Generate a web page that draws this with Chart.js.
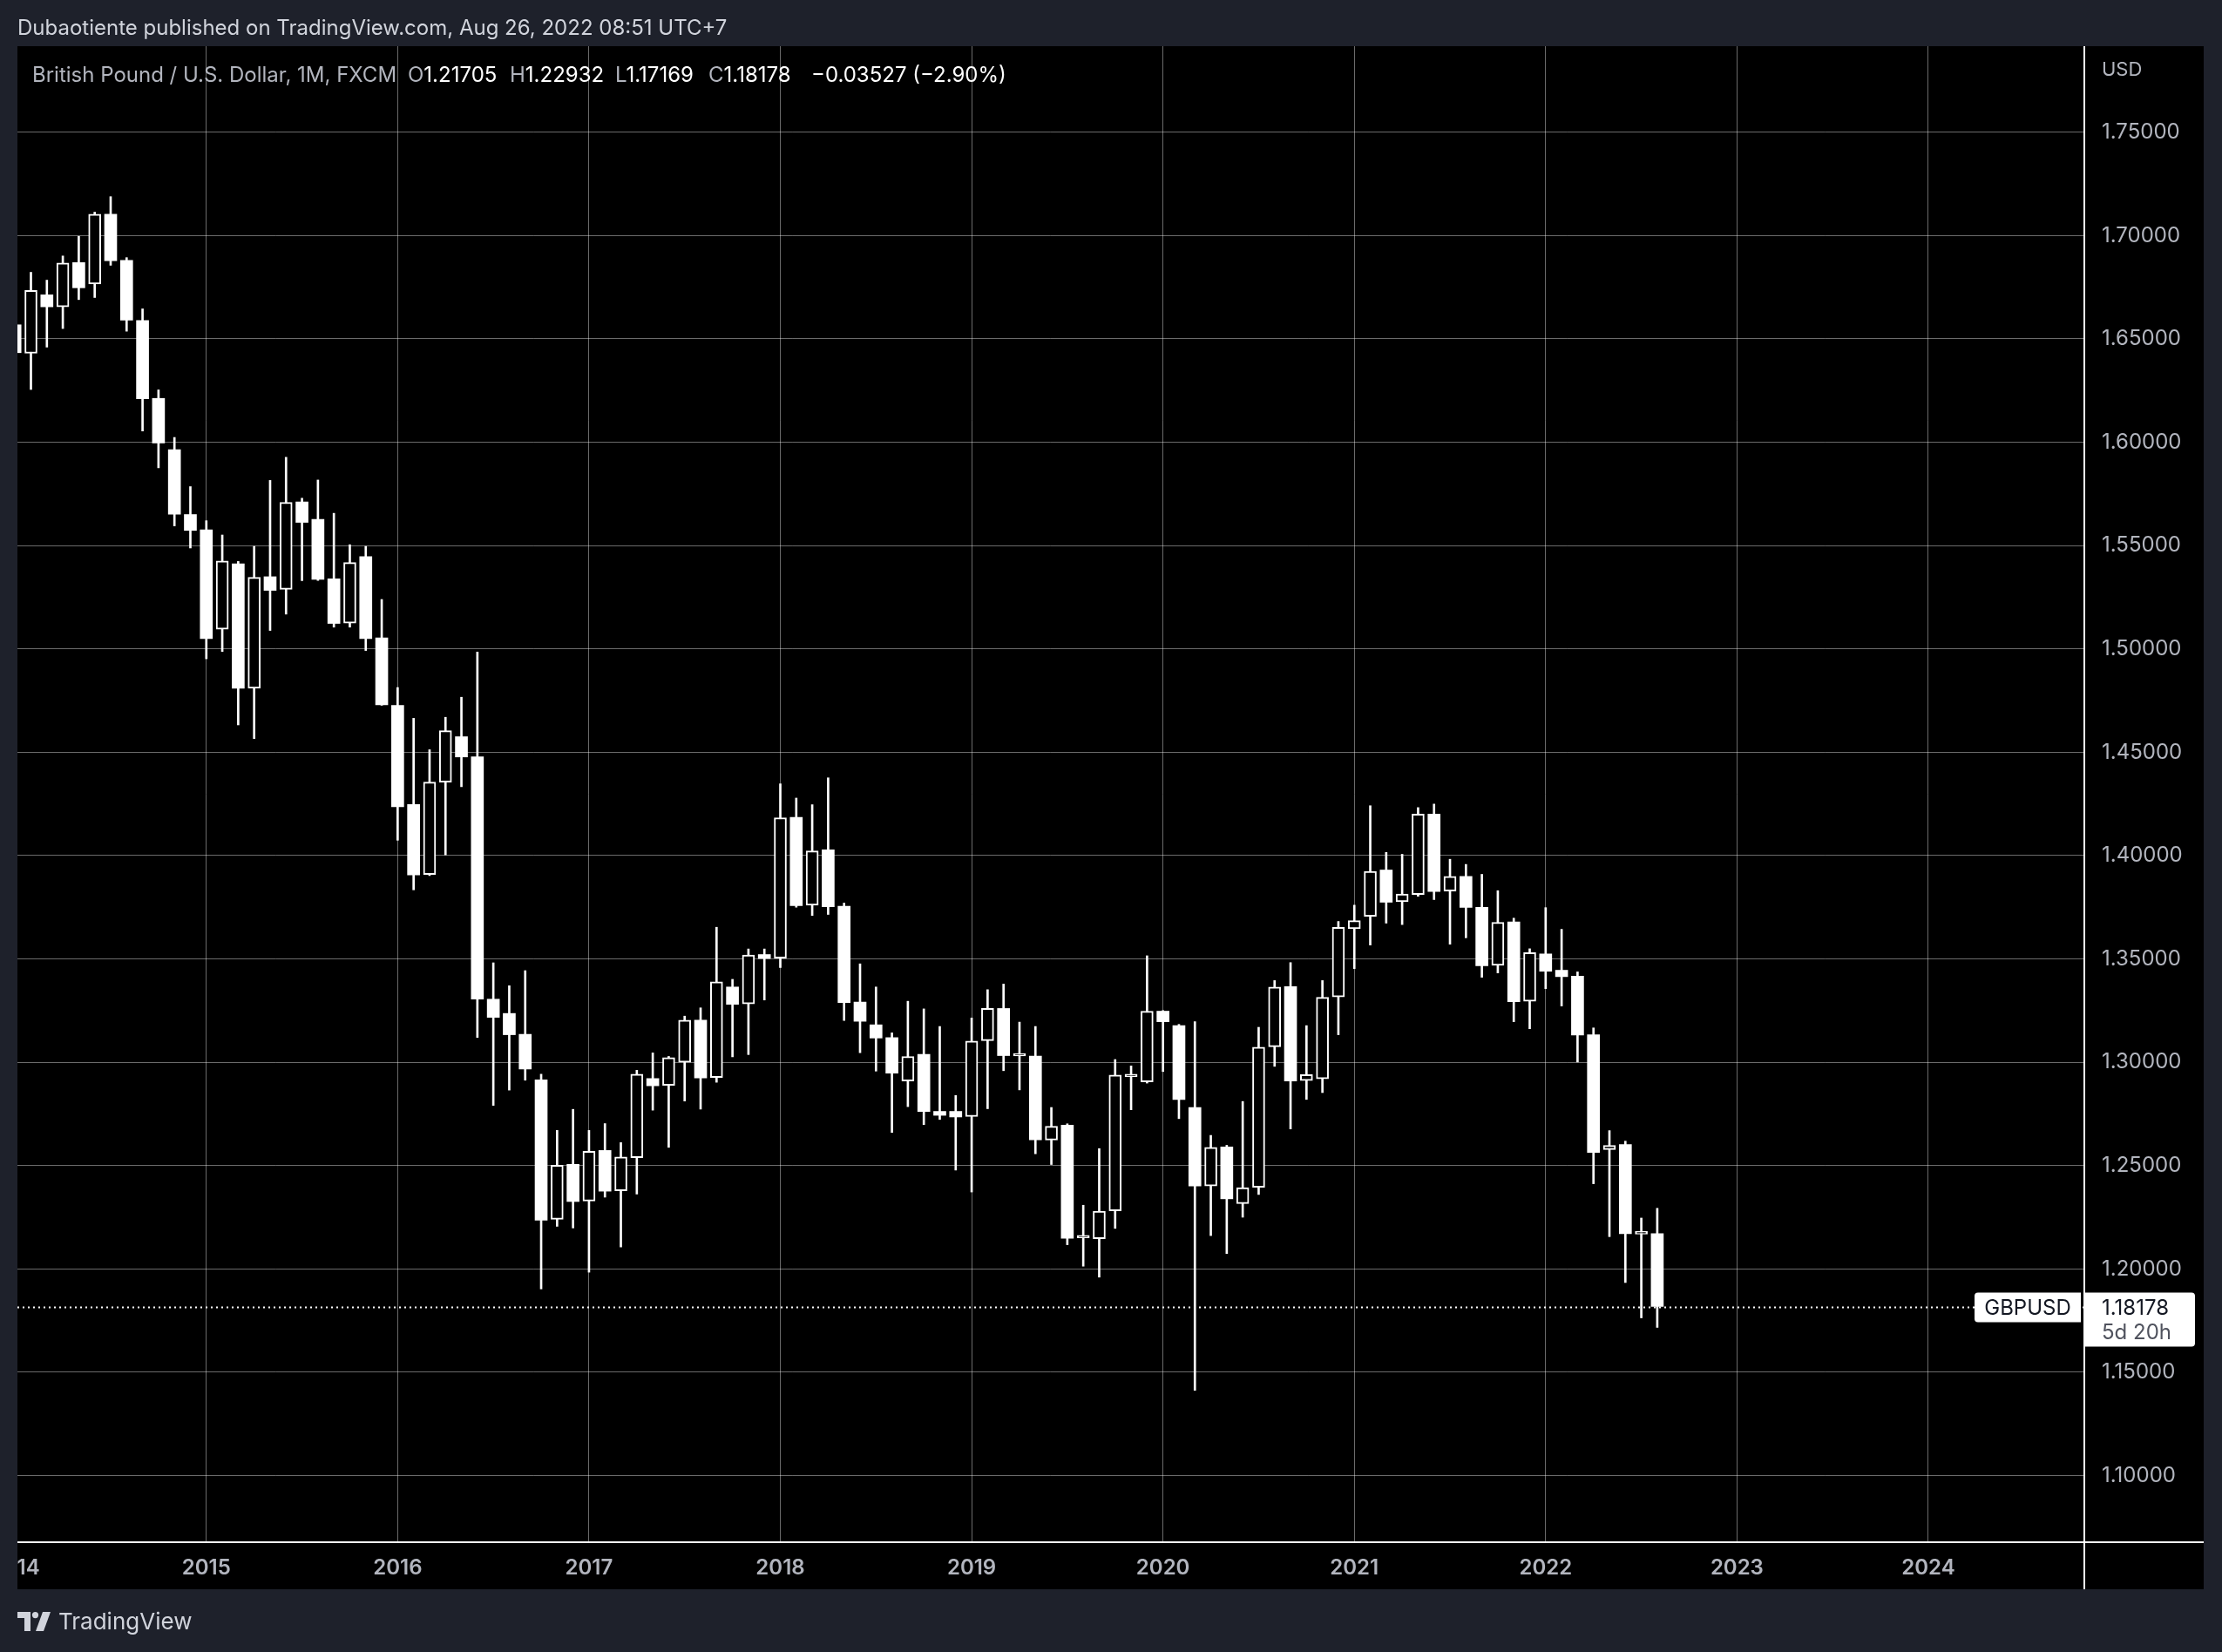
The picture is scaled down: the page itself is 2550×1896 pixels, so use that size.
<!DOCTYPE html>
<html>
<head>
<meta charset="utf-8">
<script src="https://cdn.jsdelivr.net/npm/chart.js@4/dist/chart.umd.min.js"></script>
<style>
  html, body { margin: 0; padding: 0; background: #1e212b; }
  body { width: 2550px; height: 1896px; position: relative; overflow: hidden; font-family: Inter, "Noto Sans", sans-serif; }
  #c { position: absolute; left: 0; top: 0; }
  .t { position: absolute; white-space: nowrap; line-height: 1; transform: translateY(-50%); }
  #header { left: 20px; top: 32px; font-size: 24px; color: #d1d4dc; }
  .lg { top: 86px; font-size: 24px; color: #b2b5be; }
  .lg b { font-weight: 400; color: #ffffff; }
  #footer { left: 20px; top: 1861px; font-size: 26px; color: #d1d4dc; display: flex; align-items: center; }
  #footer svg { margin-right: 9px; }
</style>
</head>
<body>
<canvas id="c" width="2550" height="1896"></canvas>
<div id="header" class="t">Dubaotiente published on TradingView.com, Aug 26, 2022 08:51 UTC+7</div>
<div class="t lg" style="left:37px">British Pound / U.S. Dollar, 1M, FXCM</div>
<div class="t lg" id="lgO" style="left:468px"></div>
<div class="t lg" id="lgH" style="left:585px"></div>
<div class="t lg" id="lgL" style="left:706px"></div>
<div class="t lg" id="lgC" style="left:813px"></div>
<div class="t lg" id="lgChg" style="left:931px"></div>
<div id="footer" class="t">
  <svg width="38" height="22" viewBox="0 0 38 22">
    <path d="M0 0 H15 V22 H8 V7 H0 Z" fill="#d1d4dc"/>
    <circle cx="20.5" cy="3.6" r="3.6" fill="#d1d4dc"/>
    <path d="M29 0 H38 L30 22 H21 Z" fill="#d1d4dc"/>
  </svg>
  <span>TradingView</span>
</div>
<script>
// GBPUSD monthly candles, Jan 2014 .. Aug 2022 (index 0 = Jan 2014)
const opens = [
  1.6568, 1.6430, 1.6713, 1.6655, 1.6869, 1.6765, 1.7103, 1.6880, 1.6589, 1.6212, 1.5964, 1.5650,
  1.5576, 1.5095, 1.5412, 1.4809, 1.5349, 1.5288, 1.5711, 1.5627, 1.5339, 1.5124, 1.5446, 1.5053,
  1.4727, 1.4247, 1.3908, 1.4355, 1.4575, 1.4478, 1.3305, 1.3236, 1.3135, 1.2915, 1.2240, 1.2506,
  1.2328, 1.2573, 1.2378, 1.2538, 1.2921, 1.2888, 1.3000, 1.3204, 1.2926, 1.3364, 1.3282, 1.3521,
  1.3504, 1.4185, 1.3760, 1.4028, 1.3755, 1.3291, 1.3181, 1.3119, 1.2909, 1.3038, 1.2762, 1.2762,
  1.2737, 1.3104, 1.3260, 1.3030, 1.3030, 1.2623, 1.2696, 1.2150, 1.2146, 1.2281, 1.2930, 1.2905,
  1.3247, 1.3177, 1.2781, 1.2401, 1.2590, 1.2316, 1.2395, 1.3075, 1.3366, 1.2911, 1.2920, 1.3316,
  1.3646, 1.3706, 1.3930, 1.3776, 1.3811, 1.4201, 1.3828, 1.3899, 1.3749, 1.3469, 1.3679, 1.3295,
  1.3524, 1.3445, 1.3416, 1.3133, 1.2577, 1.2602, 1.2168, 1.21705
];
const highs = [
  1.6680, 1.6822, 1.6784, 1.6901, 1.6996, 1.7113, 1.7188, 1.6893, 1.6645, 1.6253, 1.6023, 1.5785,
  1.5620, 1.5551, 1.5423, 1.5496, 1.5815, 1.5927, 1.5729, 1.5817, 1.5656, 1.5504, 1.5496, 1.5239,
  1.4813, 1.4664, 1.4512, 1.4669, 1.4766, 1.4985, 1.3481, 1.3370, 1.3443, 1.2942, 1.2670, 1.2772,
  1.2670, 1.2703, 1.2611, 1.2961, 1.3045, 1.3028, 1.3223, 1.3263, 1.3653, 1.3401, 1.3548, 1.3548,
  1.4347, 1.4278, 1.4246, 1.4376, 1.3770, 1.3476, 1.3364, 1.3142, 1.3295, 1.3258, 1.3173, 1.2839,
  1.3214, 1.3351, 1.3378, 1.3194, 1.3173, 1.2781, 1.2702, 1.2308, 1.2582, 1.3013, 1.2982, 1.3515,
  1.3250, 1.3183, 1.3196, 1.2646, 1.2598, 1.2810, 1.3169, 1.3395, 1.3482, 1.3177, 1.3395, 1.3681,
  1.3760, 1.4241, 1.4015, 1.4006, 1.4232, 1.4249, 1.3982, 1.3957, 1.3909, 1.3830, 1.3697, 1.3549,
  1.3748, 1.3643, 1.3437, 1.3166, 1.2669, 1.2618, 1.2246, 1.22932
];
const lows = [
  1.6250, 1.6255, 1.6460, 1.6550, 1.6690, 1.6700, 1.6856, 1.6537, 1.6054, 1.5876, 1.5595, 1.5488,
  1.4952, 1.4987, 1.4632, 1.4566, 1.5089, 1.5168, 1.5330, 1.5331, 1.5105, 1.5105, 1.4992, 1.4727,
  1.4074, 1.3834, 1.3903, 1.4003, 1.4333, 1.3120, 1.2791, 1.2865, 1.2913, 1.1903, 1.2206, 1.2198,
  1.1984, 1.2347, 1.2106, 1.2362, 1.2768, 1.2588, 1.2812, 1.2773, 1.2903, 1.3026, 1.3037, 1.3301,
  1.3458, 1.3750, 1.3710, 1.3715, 1.3202, 1.3046, 1.2957, 1.2660, 1.2785, 1.2698, 1.2723, 1.2478,
  1.2372, 1.2775, 1.2959, 1.2866, 1.2557, 1.2505, 1.2117, 1.2013, 1.1960, 1.2196, 1.2770, 1.2899,
  1.2955, 1.2727, 1.1412, 1.2161, 1.2074, 1.2250, 1.2360, 1.2980, 1.2677, 1.2820, 1.2853, 1.3133,
  1.3453, 1.3567, 1.3673, 1.3666, 1.3803, 1.3787, 1.3571, 1.3602, 1.3411, 1.3432, 1.3196, 1.3162,
  1.3356, 1.3272, 1.3001, 1.2412, 1.2156, 1.1934, 1.1763, 1.17169
];
const closes = [
  1.6433, 1.6734, 1.6655, 1.6867, 1.6747, 1.7103, 1.6878, 1.6591, 1.6210, 1.5996, 1.5651, 1.5573,
  1.5050, 1.5425, 1.4809, 1.5346, 1.5283, 1.5709, 1.5612, 1.5336, 1.5123, 1.5418, 1.5050, 1.4729,
  1.4236, 1.3906, 1.4355, 1.4604, 1.4477, 1.3305, 1.3217, 1.3133, 1.2967, 1.2236, 1.2502, 1.2326,
  1.2569, 1.2376, 1.2542, 1.2942, 1.2886, 1.3022, 1.3204, 1.2924, 1.3389, 1.3280, 1.3519, 1.3502,
  1.4183, 1.3758, 1.4022, 1.3752, 1.3289, 1.3198, 1.3117, 1.2947, 1.3028, 1.2762, 1.2743, 1.2735,
  1.3102, 1.3260, 1.3032, 1.3036, 1.2625, 1.2690, 1.2148, 1.2155, 1.2279, 1.2938, 1.2936, 1.3247,
  1.3196, 1.2820, 1.2401, 1.2588, 1.2339, 1.2393, 1.3073, 1.3364, 1.2909, 1.2940, 1.3314, 1.3652,
  1.3685, 1.3923, 1.3774, 1.3814, 1.4201, 1.3826, 1.3899, 1.3749, 1.3467, 1.3677, 1.3293, 1.3530,
  1.3440, 1.3414, 1.3131, 1.2563, 1.2598, 1.2170, 1.21705, 1.18178
];

const yearLabels = ['2014', '2015', '2016', '2017', '2018', '2019', '2020', '2021', '2022', '2023', '2024'];
const yearTickIndex = [0, 12, 24, 36, 48, 60, 72, 84, 96, 108, 120];
const priceTicks = [1.10, 1.15, 1.20, 1.25, 1.30, 1.35, 1.40, 1.45, 1.50, 1.55, 1.60, 1.65, 1.70, 1.75];
const symbol = 'GBPUSD';
const countdown = '5d 20h';

const last = closes.length - 1;
const chg = closes[last] - closes[last - 1];
const pct = chg / closes[last - 1] * 100;
document.getElementById('lgO').innerHTML = 'O<b>' + opens[last].toFixed(5) + '</b>';
document.getElementById('lgH').innerHTML = 'H<b>' + highs[last].toFixed(5) + '</b>';
document.getElementById('lgL').innerHTML = 'L<b>' + lows[last].toFixed(5) + '</b>';
document.getElementById('lgC').innerHTML = 'C<b>' + closes[last].toFixed(5) + '</b>';
document.getElementById('lgChg').innerHTML = '<b>' + (chg < 0 ? '\u2212' : '+') + Math.abs(chg).toFixed(5) +
  ' (' + (pct < 0 ? '\u2212' : '+') + Math.abs(pct).toFixed(2) + '%)</b>';

const isUp = i => closes[i] >= opens[i];
const bodies = opens.map((o, i) => ({x: i, y: [o, closes[i]]}));
const wicks = lows.map((l, i) => ({x: i, y: [l, highs[i]]}));

const NAVY = '#1e212b';
const GRID = 'rgba(255,255,255,0.42)';
const PANE = {left: 20, top: 53, right: 2529, bottom: 1824};

const framePlugin = {
  id: 'frame',
  beforeDraw(chart) {
    const ctx = chart.ctx;
    ctx.save();
    ctx.fillStyle = NAVY;
    ctx.fillRect(0, 0, chart.width, chart.height);
    ctx.fillStyle = '#000000';
    ctx.fillRect(PANE.left, PANE.top, PANE.right - PANE.left, PANE.bottom - PANE.top);
    ctx.restore();
  },
  beforeDatasetsDraw(chart) {
    const ctx = chart.ctx, a = chart.chartArea;
    const py = Math.round(chart.scales.y.getPixelForValue(closes[last])) + 0.5;
    ctx.save();
    ctx.strokeStyle = '#ffffff';
    ctx.lineWidth = 2;
    ctx.setLineDash([2, 4]);
    ctx.beginPath();
    ctx.moveTo(a.left, py);
    ctx.lineTo(a.right, py);
    ctx.stroke();
    ctx.restore();
  },
  afterDraw(chart) {
    const ctx = chart.ctx, a = chart.chartArea;
    ctx.save();
    // clip anything left of the pane
    ctx.fillStyle = NAVY;
    ctx.fillRect(0, PANE.top, PANE.left, PANE.bottom - PANE.top);
    // axis border lines
    ctx.fillStyle = '#ffffff';
    ctx.fillRect(a.right, PANE.top, 2, PANE.bottom - PANE.top);
    ctx.fillRect(PANE.left, a.bottom - 1, PANE.right - PANE.left, 2);

    const py = chart.scales.y.getPixelForValue(closes[last]);
    // symbol label and last price label
    ctx.fillStyle = '#ffffff';
    ctx.beginPath();
    ctx.roundRect(a.right - 125, py - 16, 122, 34, [4, 0, 0, 4]);
    ctx.fill();
    ctx.beginPath();
    ctx.roundRect(a.right + 2, py - 16, 126, 62, [0, 4, 4, 0]);
    ctx.fill();
    ctx.fillStyle = '#131722';
    ctx.font = '24px Inter, "Noto Sans", sans-serif';
    ctx.textBaseline = 'middle';
    ctx.textAlign = 'center';
    ctx.fillText(symbol, a.right - 64, py + 2);
    ctx.textAlign = 'left';
    ctx.fillText(closes[last].toFixed(5), a.right + 21, py + 2);
    ctx.fillStyle = '#50535e';
    ctx.fillText(countdown, a.right + 21, py + 30);
    // currency label
    ctx.fillStyle = '#b2b5be';
    ctx.font = '22px Inter, "Noto Sans", sans-serif';
    ctx.fillText('USD', a.right + 21, 80);
    ctx.restore();
  }
};

function draw() {
  new Chart(document.getElementById('c'), {
    type: 'bar',
    data: {
      datasets: [
        {
          data: bodies,
          barThickness: 14,
          grouped: false,
          borderSkipped: false,
          minBarLength: 3,
          backgroundColor: ctx => isUp(ctx.dataIndex) ? '#000000' : '#ffffff',
          borderColor: '#ffffff',
          borderWidth: ctx => isUp(ctx.dataIndex) ? 2 : 0
        },
        {
          data: wicks,
          barThickness: 2,
          grouped: false,
          borderSkipped: false,
          backgroundColor: '#ffffff',
          borderWidth: 0
        }
      ]
    },
    options: {
      responsive: false,
      devicePixelRatio: 1,
      animation: false,
      layout: {padding: {left: 20, top: 53, right: 21, bottom: 72}},
      plugins: {
        legend: {display: false},
        tooltip: {enabled: false}
      },
      scales: {
        x: {
          type: 'linear',
          offset: false,
          min: 0.153,
          max: 129.73,
          afterBuildTicks: s => { s.ticks = yearTickIndex.map(v => ({value: v})); },
          afterFit: s => { s.height = 54; s.paddingLeft = 0; s.paddingRight = 0; },
          grid: {color: GRID, lineWidth: 1, drawTicks: false, offset: false},
          border: {display: false},
          ticks: {
            autoSkip: false,
            maxRotation: 0,
            padding: 15,
            color: '#b2b5be',
            font: {family: 'Inter, "Noto Sans", sans-serif', size: 24, weight: '600'},
            callback: (v, i) => yearLabels[i]
          }
        },
        y: {
          position: 'right',
          min: 1.06775,
          max: 1.79161,
          afterBuildTicks: s => { s.ticks = priceTicks.map(v => ({value: v})); },
          afterFit: s => { s.width = 138; s.paddingTop = 0; s.paddingBottom = 0; },
          grid: {color: GRID, lineWidth: 1, drawTicks: false},
          border: {display: false},
          ticks: {
            padding: 21,
            color: '#b2b5be',
            font: {family: 'Inter, "Noto Sans", sans-serif', size: 24},
            callback: v => Number(v).toFixed(5)
          }
        }
      }
    },
    plugins: [framePlugin]
  });
}

document.fonts.load('24px Inter').then(draw, draw);
</script>
</body>
</html>
